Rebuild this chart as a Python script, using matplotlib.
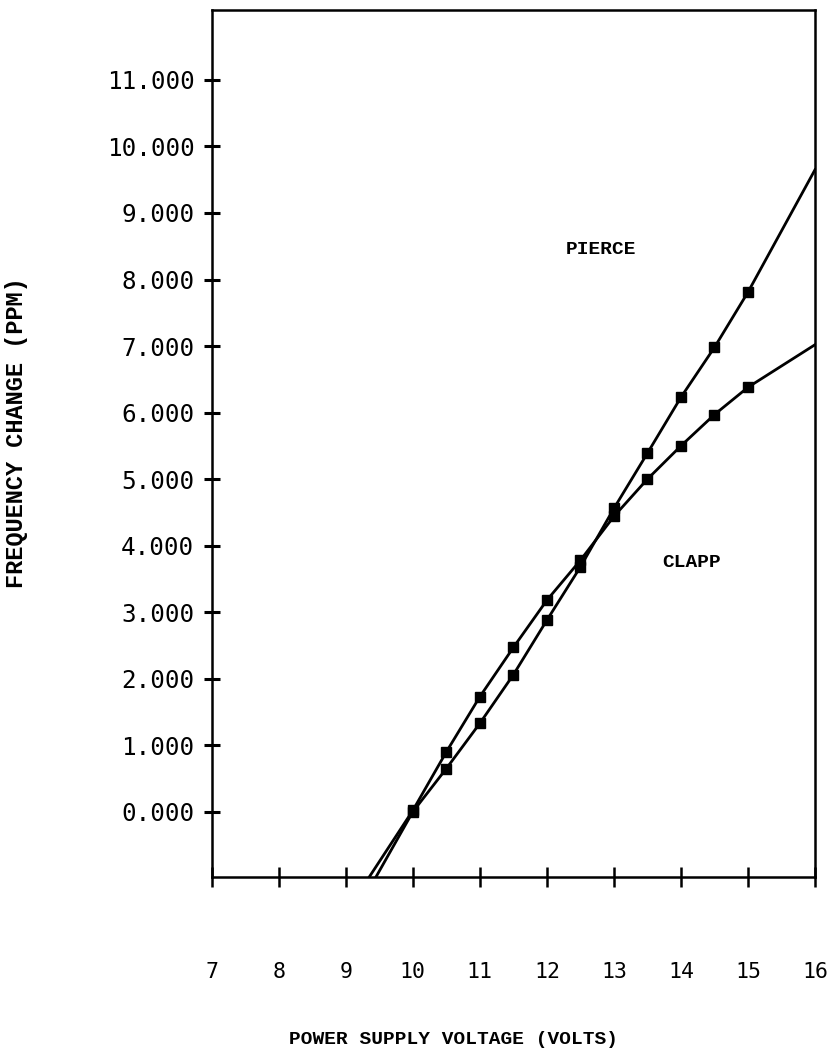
import matplotlib
matplotlib.use("Agg")
import matplotlib.pyplot as plt

# Frequency change vs. power supply voltage
clapp_v = [9.35, 10.0, 10.5, 11.0, 11.5, 12.0, 12.5, 13.0, 13.5, 14.0, 14.5, 15.0, 16.0]
clapp_ppm = [-0.98, 0.02, 0.90, 1.73, 2.47, 3.18, 3.78, 4.44, 5.00, 5.50, 5.97, 6.38, 7.02]

pierce_v = [9.45, 10.0, 10.5, 11.0, 11.5, 12.0, 12.5, 13.0, 13.5, 14.0, 14.5, 15.0, 16.0]
pierce_ppm = [-0.98, 0.0, 0.65, 1.33, 2.06, 2.88, 3.68, 4.56, 5.39, 6.23, 6.98, 7.81, 9.65]

x_ticks = [7, 8, 9, 10, 11, 12, 13, 14, 15, 16]
y_ticks = [0, 1, 2, 3, 4, 5, 6, 7, 8, 9, 10, 11]
y_labels = ["%.3f" % v for v in y_ticks]

fig = plt.figure(figsize=(8.27, 10.55), dpi=100)
ax = fig.add_axes([0.256, 0.1687, 0.7295, 0.8218])

# markers only on the measured points, not the end segments
ax.plot(clapp_v, clapp_ppm, color="black", lw=2.0, marker="s", ms=6.5,
        markevery=list(range(1, 12)))
ax.plot(pierce_v, pierce_ppm, color="black", lw=2.0, marker="s", ms=6.5,
        markevery=list(range(1, 12)))

ax.set_xlim(7, 16)
ax.set_ylim(-0.98, 12.05)

ax.set_xticks(x_ticks)
ax.set_xticklabels([str(v) for v in x_ticks], family="DejaVu Sans Mono", fontsize=15.5)
ax.set_yticks(y_ticks)
ax.set_yticklabels(y_labels, family="DejaVu Sans Mono", fontsize=17.5)

ax.tick_params(axis="x", direction="inout", length=14, width=1.8, pad=54)
ax.tick_params(axis="y", direction="inout", length=11, width=2.2, pad=7)

for sp in ax.spines.values():
    sp.set_linewidth(1.8)

ax.set_xlabel("POWER SUPPLY VOLTAGE (VOLTS)", family="Liberation Mono",
              fontsize=14, weight="bold")
ax.xaxis.set_label_coords(0.40, -0.178)
ax.set_ylabel("FREQUENCY CHANGE (PPM)", family="Liberation Mono",
              fontsize=17, weight="bold")
ax.yaxis.set_label_coords(-0.3045, 0.513)

ax.text(12.81, 8.45, "PIERCE", family="Liberation Mono", fontsize=14,
        weight="bold", ha="center", va="center")
ax.text(14.16, 3.74, "CLAPP", family="Liberation Mono", fontsize=14,
        weight="bold", ha="center", va="center")

fig.savefig("out.png", dpi=100, facecolor="white")
